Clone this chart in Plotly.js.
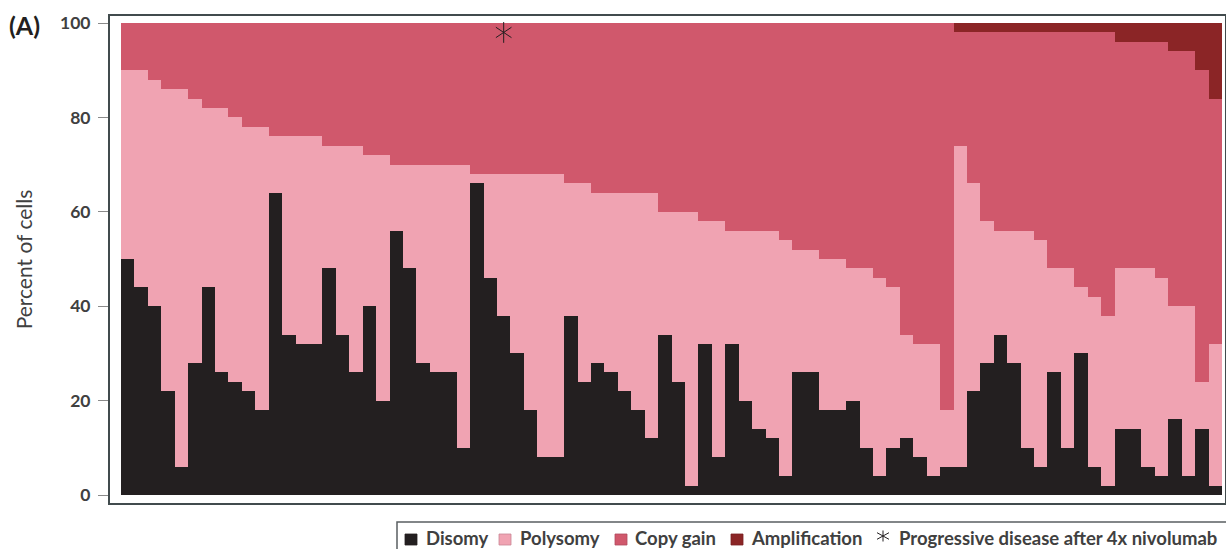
<!DOCTYPE html>
<html>
<head>
<meta charset="utf-8">
<script src="https://cdn.plot.ly/plotly-3.0.1.min.js"></script>
<style>
  html, body { margin: 0; padding: 0; background: #fff; }
  #chart { width: 1226px; height: 549px; }
</style>
</head>
<body>
<div id="chart"></div>
<script>
// Patients (one bar each), left to right
const patients = Array.from({length: 82}, (_, i) => i + 1);

// Percent of cells per category
const disomy = [
  50, 44, 40, 22, 6, 28, 44, 26, 24, 22,
  18, 64, 34, 32, 32, 48, 34, 26, 40, 20,
  56, 48, 28, 26, 26, 10, 66, 46, 38, 30,
  18, 8, 8, 38, 24, 28, 26, 22, 18, 12,
  34, 24, 2, 32, 8, 32, 20, 14, 12, 4,
  26, 26, 18, 18, 20, 10, 4, 10, 12, 8,
  4, 6, 6, 22, 28, 34, 28, 10, 6, 26,
  10, 30, 6, 2, 14, 14, 6, 4, 16, 4,
  14, 2
];
const polysomy = [
  40, 46, 48, 64, 80, 56, 38, 56, 56, 56,
  60, 12, 42, 44, 44, 26, 40, 48, 32, 52,
  14, 22, 42, 44, 44, 60, 2, 22, 30, 38,
  50, 60, 60, 28, 42, 36, 38, 42, 46, 52,
  26, 36, 58, 26, 50, 24, 36, 42, 44, 50,
  26, 26, 32, 32, 28, 38, 42, 34, 22, 24,
  28, 12, 68, 44, 30, 22, 28, 46, 48, 22,
  38, 14, 36, 36, 34, 34, 42, 42, 24, 36,
  10, 30
];
const copyGain = [
  10, 10, 12, 14, 14, 16, 18, 18, 20, 22,
  22, 24, 24, 24, 24, 26, 26, 26, 28, 28,
  30, 30, 30, 30, 30, 30, 32, 32, 32, 32,
  32, 32, 32, 34, 34, 36, 36, 36, 36, 36,
  40, 40, 40, 42, 42, 44, 44, 44, 44, 46,
  48, 48, 50, 50, 52, 52, 54, 56, 66, 68,
  68, 82, 24, 32, 40, 42, 42, 42, 44, 50,
  50, 54, 56, 60, 48, 48, 48, 50, 54, 54,
  66, 52
];
const amplification = [
  0, 0, 0, 0, 0, 0, 0, 0, 0, 0,
  0, 0, 0, 0, 0, 0, 0, 0, 0, 0,
  0, 0, 0, 0, 0, 0, 0, 0, 0, 0,
  0, 0, 0, 0, 0, 0, 0, 0, 0, 0,
  0, 0, 0, 0, 0, 0, 0, 0, 0, 0,
  0, 0, 0, 0, 0, 0, 0, 0, 0, 0,
  0, 0, 2, 2, 2, 2, 2, 2, 2, 2,
  2, 2, 2, 2, 4, 4, 4, 4, 6, 6,
  10, 16
];

// Progressive disease marker
const progressivePatient = [29];
const progressiveY = [98];

const yTicks = [0, 20, 40, 60, 80, 100];

// Legend labels and colours
const seriesNames = ['Disomy', 'Polysomy', 'Copy gain', 'Amplification'];
const seriesColors = ['#231f20', '#f0a3b2', '#d0586c', '#8b2526'];
const seriesEdge = ['#231f20', '#c98796', '#b04a5d', '#7a2022'];
const markerLabel = 'Progressive disease after 4x nivolumab';

const textColor = '#404040';
const frameColor = '#414b4d';
const fontFam = 'Lato, "Open Sans", sans-serif';

// geometry of the plot area (px)
const M = { l: 110, r: 1, t: 16, b: 46 };
const W = 1226, H = 549;
const pw = W - M.l - M.r, ph = H - M.t - M.b;
const px = v => (v - M.l) / pw;
const py = v => (H - M.b - v) / ph;

const seriesValues = [disomy, polysomy, copyGain, amplification];
const data = seriesNames.map((name, k) => ({
  type: 'bar', name: name, x: patients, y: seriesValues[k],
  marker: { color: seriesColors[k], line: { width: 0 } },
  hoverinfo: 'name+y'
}));
// six-armed asterisk = y-up + y-down
['y-up-open', 'y-down-open'].forEach(sym => {
  data.push({
    type: 'scatter', mode: 'markers', name: markerLabel,
    x: progressivePatient, y: progressiveY,
    marker: { symbol: sym, size: 13, color: '#231f20', line: { color: '#231f20', width: 1 } }
  });
});

// manual legend
const legSquares = [405, 499, 615, 731];
const legTextX = [426, 520, 635, 751, 899];
const shapes = [
  { type: 'rect', xref: 'paper', yref: 'paper', x0: px(397), x1: px(1240), y0: py(522), y1: py(565),
    line: { color: '#5a5f61', width: 1.5 }, fillcolor: 'rgba(0,0,0,0)' }
];
const annotations = [
  { xref: 'paper', yref: 'paper', x: px(7), y: py(25), xanchor: 'left', yanchor: 'middle',
    text: '<b>(A)</b>', showarrow: false, font: { family: fontFam, size: 25, color: '#231f20' } }
];
legSquares.forEach((sx, k) => {
  shapes.push({ type: 'rect', xref: 'paper', yref: 'paper',
    x0: px(sx), x1: px(sx + 12), y0: py(545), y1: py(534),
    fillcolor: seriesColors[k], line: { color: seriesEdge[k], width: 0.8 } });
});
shapes.push({ type: 'path', xref: 'paper', yref: 'paper', xsizemode: 'pixel', ysizemode: 'pixel',
  xanchor: px(883), yanchor: py(536),
  path: 'M0,-5.5 L0,5.5 M-6,-3.3 L6,3.3 M-6,3.3 L6,-3.3',
  line: { color: '#231f20', width: 1 } });
seriesNames.concat([markerLabel]).forEach((t, k) => {
  annotations.push({ xref: 'paper', yref: 'paper', x: px(legTextX[k]), y: py(537.5),
    xanchor: 'left', yanchor: 'middle', xshift: -2, showarrow: false, text: t,
    font: { family: fontFam, size: 18.5, weight: 'bold', color: textColor } });
});

const layout = {
  width: W, height: H,
  margin: { l: M.l, r: M.r, t: M.t, b: M.b, autoexpand: false },
  paper_bgcolor: '#ffffff', plot_bgcolor: '#ffffff',
  barmode: 'stack', bargap: 0,
  font: { family: fontFam, color: textColor },
  showlegend: false,
  xaxis: {
    range: [-0.319, 82.72],
    showticklabels: false, ticks: '', showgrid: false, zeroline: false,
    showline: true, mirror: true, linecolor: frameColor, linewidth: 2
  },
  yaxis: {
    range: [-1.695, 101.483],
    tickvals: yTicks, ticktext: yTicks.map(String),
    ticks: 'outside', ticklen: 10, tickcolor: '#8a8a8a', tickwidth: 1,
    ticklabelstandoff: 4,
    tickfont: { family: fontFam, size: 17.5, weight: 'bold', color: textColor },
    showgrid: false, zeroline: false,
    showline: true, mirror: true, linecolor: frameColor, linewidth: 2,
    title: { text: 'Percent of cells', font: { family: fontFam, size: 21, color: textColor }, standoff: 22 }
  },
  shapes: shapes,
  annotations: annotations
};

Plotly.newPlot('chart', data, layout, { displayModeBar: false, staticPlot: true });
</script>
</body>
</html>
